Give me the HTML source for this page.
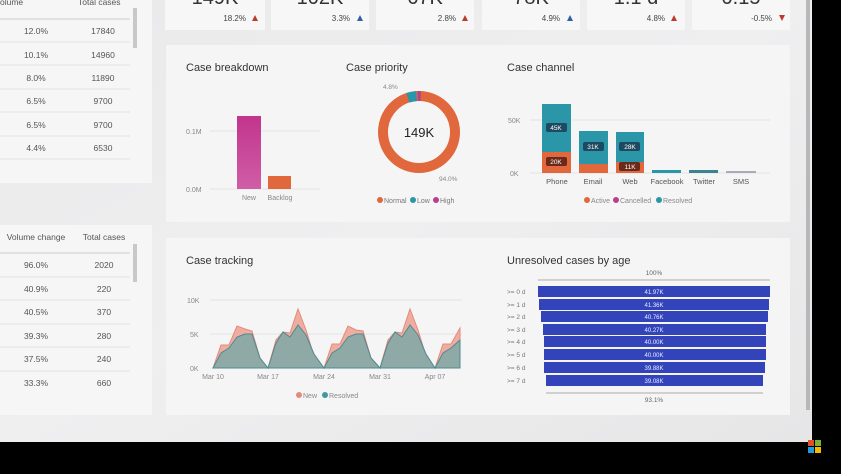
<!DOCTYPE html>
<html><head><meta charset="utf-8"><style>
html,body{margin:0;padding:0;width:841px;height:474px;overflow:hidden;background:#000;}
svg text{font-family:"Liberation Sans",sans-serif;}
</style></head><body>
<svg width="841" height="474" viewBox="0 0 841 474" xmlns="http://www.w3.org/2000/svg">
<defs>
<linearGradient id="bg" x1="0" y1="0" x2="1" y2="1">
<stop offset="0" stop-color="#e9e9ea"/><stop offset="0.5" stop-color="#efeff0"/><stop offset="1" stop-color="#e6e6e7"/></linearGradient>
<linearGradient id="mag" x1="0" y1="0" x2="0" y2="1"><stop offset="0" stop-color="#c2348d"/><stop offset="1" stop-color="#cf5ea6"/></linearGradient>
</defs>
<rect x="0" y="0" width="812" height="442" fill="url(#bg)"/>
<rect x="806" y="0" width="4" height="410" fill="#b8b8ba"/>
<!-- left panels -->
<rect x="0" y="0" width="152" height="183" fill="#f6f6f7"/>
<rect x="0" y="225" width="152" height="190" fill="#f6f6f7"/>
<rect x="133" y="8" width="4" height="40" fill="#c8c8ca"/>
<rect x="133" y="244" width="4" height="38" fill="#c8c8ca"/>
<g font-size="8.5" fill="#555">
<text x="0" y="5">olume</text><text x="78" y="5">Total cases</text>
<line x1="0" y1="19" x2="130" y2="19" stroke="#ccc"/>
<g text-anchor="middle">
<text x="36" y="34">12.0%</text><text x="103" y="34">17840</text>
<text x="36" y="58">10.1%</text><text x="103" y="58">14960</text>
<text x="36" y="81">8.0%</text><text x="103" y="81">11890</text>
<text x="36" y="104">6.5%</text><text x="103" y="104">9700</text>
<text x="36" y="128">6.5%</text><text x="103" y="128">9700</text>
<text x="36" y="151">4.4%</text><text x="103" y="151">6530</text>
<text x="36" y="240">Volume change</text><text x="104" y="240">Total cases</text>
<text x="36" y="268">96.0%</text><text x="104" y="268">2020</text>
<text x="36" y="292">40.9%</text><text x="104" y="292">220</text>
<text x="36" y="315">40.5%</text><text x="104" y="315">370</text>
<text x="36" y="339">39.3%</text><text x="104" y="339">280</text>
<text x="36" y="362">37.5%</text><text x="104" y="362">240</text>
<text x="36" y="386">33.3%</text><text x="104" y="386">660</text>
</g>
<g stroke="#e2e2e3"><line x1="0" y1="42" x2="130" y2="42"/><line x1="0" y1="65" x2="130" y2="65"/><line x1="0" y1="89" x2="130" y2="89"/><line x1="0" y1="112" x2="130" y2="112"/><line x1="0" y1="136" x2="130" y2="136"/><line x1="0" y1="159" x2="130" y2="159"/>
<line x1="0" y1="253" x2="130" y2="253" stroke="#ccc"/><line x1="0" y1="277" x2="130" y2="277"/><line x1="0" y1="300" x2="130" y2="300"/><line x1="0" y1="324" x2="130" y2="324"/><line x1="0" y1="347" x2="130" y2="347"/><line x1="0" y1="371" x2="130" y2="371"/></g>
</g>
<!-- KPI cards -->
<g fill="#f7f7f8">
<rect x="165" y="0" width="100" height="30"/><rect x="271" y="0" width="98" height="30"/><rect x="376" y="0" width="98" height="30"/>
<rect x="482" y="0" width="98" height="30"/><rect x="587" y="0" width="98" height="30"/><rect x="692" y="0" width="98" height="30"/></g>
<g font-size="20" fill="#333" text-anchor="middle">
<text x="215" y="4">149K</text><text x="320" y="4">102K</text><text x="425" y="4">67K</text><text x="531" y="4">78K</text><text x="636" y="4">1.1 d</text><text x="741" y="4">0.15</text></g>
<g font-size="8" fill="#444" text-anchor="end">
<text x="246" y="21">18.2%</text><text x="350" y="21">3.3%</text><text x="456" y="21">2.8%</text><text x="560" y="21">4.9%</text><text x="665" y="21">4.8%</text><text x="772" y="21">-0.5%</text></g>
<g><path d="M252 21l3-6 3 6z" fill="#c0392b"/><path d="M357 21l3-6 3 6z" fill="#2f5faa"/><path d="M462 21l3-6 3 6z" fill="#c0392b"/><path d="M567 21l3-6 3 6z" fill="#2f5faa"/><path d="M671 21l3-6 3 6z" fill="#c0392b"/><path d="M779 15l3 6 3-6z" fill="#c0392b"/></g>
<!-- middle panel -->
<rect x="166" y="45" width="624" height="177" fill="#f5f5f6"/>
<g font-size="11" fill="#333"><text x="186" y="71">Case breakdown</text><text x="346" y="71">Case priority</text><text x="507" y="71">Case channel</text></g>
<g font-size="7" fill="#888"><text x="186" y="134">0.1M</text><text x="186" y="192">0.0M</text></g>
<line x1="210" y1="131" x2="320" y2="131" stroke="#e3e3e3"/><line x1="210" y1="189" x2="320" y2="189" stroke="#e3e3e3"/>
<rect x="237" y="116" width="24" height="73" fill="url(#mag)"/>
<rect x="268" y="176" width="23" height="13" fill="#e0683c"/>
<g font-size="7" fill="#888" text-anchor="middle"><text x="249" y="200">New</text><text x="280" y="200">Backlog</text></g>
<!-- donut -->
<circle cx="419" cy="132" r="36" fill="none" stroke="#e0683c" stroke-width="10"/>
<circle cx="419" cy="132" r="36" fill="none" stroke="#2a96a8" stroke-width="10" stroke-dasharray="9 300" transform="rotate(-108 419 132)"/>
<circle cx="419" cy="132" r="36" fill="none" stroke="#b83e8e" stroke-width="10" stroke-dasharray="3 300" transform="rotate(-92 419 132)"/>
<text x="419" y="137" font-size="13" fill="#222" text-anchor="middle">149K</text>
<g font-size="6.5" fill="#888"><text x="383" y="89">4.8%</text><text x="439" y="181">94.0%</text></g>
<g font-size="7" fill="#777"><circle cx="380" cy="200" r="3" fill="#e0683c"/><text x="384" y="203">Normal</text><circle cx="413" cy="200" r="3" fill="#2a96a8"/><text x="417" y="203">Low</text><circle cx="436" cy="200" r="3" fill="#b83e8e"/><text x="440" y="203">High</text></g>
<!-- channel -->
<g font-size="7" fill="#888"><text x="508" y="123">50K</text><text x="510" y="176">0K</text></g>
<line x1="530" y1="120" x2="770" y2="120" stroke="#e3e3e3"/><line x1="530" y1="173" x2="770" y2="173" stroke="#e3e3e3"/>
<rect x="542" y="104" width="29" height="69" fill="#2a96a8"/><rect x="542" y="152" width="29" height="21" fill="#e0683c"/>
<rect x="579" y="131" width="29" height="42" fill="#2a96a8"/><rect x="579" y="164" width="29" height="9" fill="#e0683c"/>
<rect x="616" y="132" width="28" height="41" fill="#2a96a8"/><rect x="616" y="162" width="28" height="11" fill="#e0683c"/>
<rect x="652" y="170" width="29" height="3" fill="#2a96a8"/><rect x="689" y="170" width="29" height="3" fill="#3a8591"/><rect x="726" y="171" width="30" height="2" fill="#aab"/>
<g font-size="6.5" fill="#fff" text-anchor="middle">
<rect x="546" y="123" width="21" height="9" rx="2" fill="#1d4a60"/><text x="556" y="130">45K</text>
<rect x="546" y="157" width="21" height="9" rx="2" fill="#6a2a1a"/><text x="556" y="164">20K</text>
<rect x="583" y="142" width="21" height="9" rx="2" fill="#1d4a60"/><text x="593" y="149">31K</text>
<rect x="619" y="142" width="21" height="9" rx="2" fill="#1d4a60"/><text x="630" y="149">28K</text>
<rect x="619" y="162" width="21" height="9" rx="2" fill="#6a2a1a"/><text x="630" y="169">11K</text></g>
<g font-size="7.5" fill="#555" text-anchor="middle"><text x="557" y="184">Phone</text><text x="593" y="184">Email</text><text x="630" y="184">Web</text><text x="667" y="184">Facebook</text><text x="704" y="184">Twitter</text><text x="741" y="184">SMS</text></g>
<g font-size="7" fill="#888"><circle cx="587" cy="200" r="3" fill="#e0683c"/><text x="591" y="203">Active</text><circle cx="616" cy="200" r="3" fill="#b83e8e"/><text x="620" y="203">Cancelled</text><circle cx="659" cy="200" r="3" fill="#2a96a8"/><text x="663" y="203">Resolved</text></g>
<!-- bottom panel -->
<rect x="166" y="238" width="624" height="177" fill="#f5f5f6"/>
<g font-size="11" fill="#333"><text x="186" y="264">Case tracking</text><text x="507" y="264">Unresolved cases by age</text></g>
<g font-size="7" fill="#888"><text x="187" y="303">10K</text><text x="190" y="337">5K</text><text x="190" y="371">0K</text></g>
<line x1="210" y1="300" x2="462" y2="300" stroke="#e3e3e3"/><line x1="210" y1="334" x2="462" y2="334" stroke="#e3e3e3"/>
<polygon fill="#eeada0" stroke="#e58a7a" stroke-width="1" points="213,368 221,345 229,345 237,326 245,329 252,331 260,358 268,368 276,340 283,332 290,333 298,309 306,330 314,356 324,368 332,344 340,344 348,326 356,330 363,331 371,358 380,368 388,340 395,332 402,333 410,309 418,330 426,356 435,368 443,344 451,344 460,328 460,368"/>
<polygon fill="#8fa9a6" stroke="#4f8a90" stroke-width="1" points="213,368 221,353 229,348 237,337 245,334 252,334 260,358 268,368 276,343 283,332 290,337 298,325 306,335 314,354 324,368 332,353 340,348 348,337 356,334 363,334 371,358 380,368 388,343 395,332 402,337 410,325 418,335 426,354 435,368 443,353 451,348 460,340 460,368"/>
<g font-size="7" fill="#888" text-anchor="middle"><text x="213" y="379">Mar 10</text><text x="268" y="379">Mar 17</text><text x="324" y="379">Mar 24</text><text x="380" y="379">Mar 31</text><text x="435" y="379">Apr 07</text></g>
<g font-size="7" fill="#888"><circle cx="299" cy="395" r="3" fill="#e58a7a"/><text x="303" y="398">New</text><circle cx="325" cy="395" r="3" fill="#3f9aa0"/><text x="329" y="398">Resolved</text></g>
<!-- funnel -->
<text x="654" y="275" font-size="6.5" fill="#666" text-anchor="middle">100%</text>
<line x1="538" y1="280" x2="770" y2="280" stroke="#aaa"/>
<line x1="546" y1="393" x2="763" y2="393" stroke="#aaa"/>
<text x="654" y="402" font-size="6.5" fill="#666" text-anchor="middle">93.1%</text>
<g fill="#3344bb">
<rect x="538" y="286" width="232" height="11"/><rect x="539" y="299" width="230" height="11"/><rect x="541" y="311" width="227" height="11"/><rect x="543" y="324" width="223" height="11"/>
<rect x="544" y="336" width="222" height="11"/><rect x="544" y="349" width="222" height="11"/><rect x="544" y="362" width="221" height="11"/><rect x="546" y="375" width="217" height="11"/></g>
<g font-size="6" fill="#e8ecff" text-anchor="middle">
<text x="654" y="294">41.97K</text><text x="654" y="307">41.36K</text><text x="654" y="319">40.76K</text><text x="654" y="332">40.27K</text><text x="654" y="344">40.00K</text><text x="654" y="357">40.00K</text><text x="654" y="370">39.88K</text><text x="654" y="383">39.08K</text></g>
<g font-size="6.5" fill="#777"><text x="507" y="294">&gt;= 0 d</text><text x="507" y="307">&gt;= 1 d</text><text x="507" y="319">&gt;= 2 d</text><text x="507" y="332">&gt;= 3 d</text><text x="507" y="344">&gt;= 4 d</text><text x="507" y="357">&gt;= 5 d</text><text x="507" y="370">&gt;= 6 d</text><text x="507" y="383">&gt;= 7 d</text></g>
<!-- logo -->
<rect x="808" y="440" width="6" height="6" fill="#e2502a"/><rect x="815" y="440" width="6" height="6" fill="#7ab32e"/><rect x="808" y="447" width="6" height="6" fill="#1f9be0"/><rect x="815" y="447" width="6" height="6" fill="#f6b800"/>
</svg>
</body></html>
